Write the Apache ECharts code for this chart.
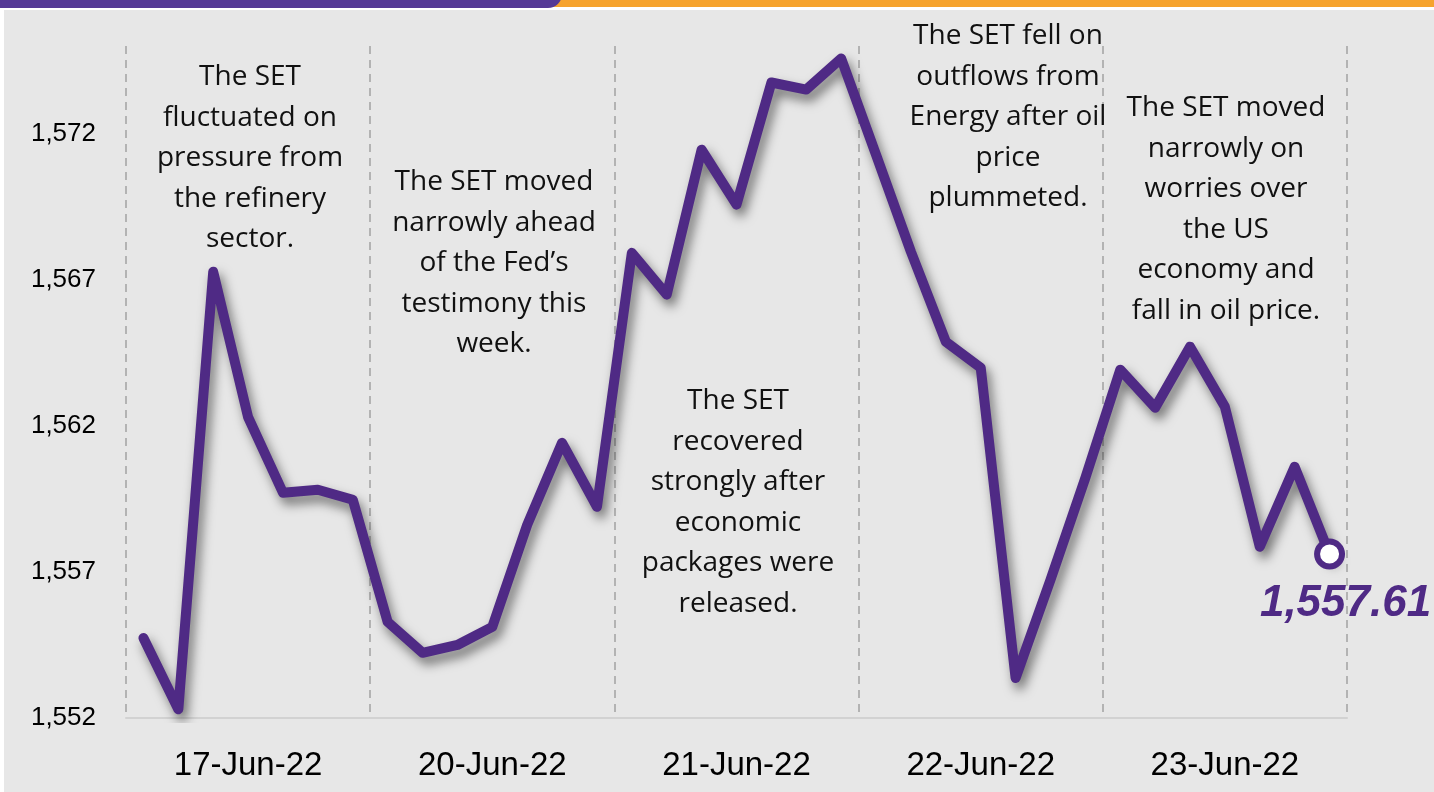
<!DOCTYPE html>
<html>
<head>
<meta charset="utf-8">
<title>SET index</title>
<script src="https://cdn.jsdelivr.net/npm/echarts@6/dist/echarts.min.js"></script>
<style>
  html, body { margin: 0; padding: 0; background: #ffffff; }
  #chart { width: 1434px; height: 792px; }
</style>
</head>
<body>
<div id="chart"></div>
<script>
// trading days, 7 intraday points each
const days = ['17-Jun-22', '20-Jun-22', '21-Jun-22', '22-Jun-22', '23-Jun-22']
const pointsPerDay = 7

const day17 = [1554.74, 1552.30, 1567.27, 1562.30, 1559.71, 1559.81, 1559.47]
const day20 = [1555.29, 1554.23, 1554.50, 1555.12, 1558.61, 1561.42, 1559.23]
const day21 = [1567.92, 1566.49, 1571.45, 1569.57, 1573.75, 1573.51, 1574.57]
const day22 = [1571.28, 1567.96, 1564.88, 1563.99, 1553.37, 1556.73, 1560.22]
const day23 = [1563.92, 1562.62, 1564.71, 1562.65, 1557.86, 1560.60, 1557.61]

const yTicks = [1552, 1557, 1562, 1567, 1572]

const notes = [
  'The SET\nfluctuated on\npressure from\nthe refinery\nsector.',
  'The SET moved\nnarrowly ahead\nof the Fed\u2019s\ntestimony this\nweek.',
  'The SET\nrecovered\nstrongly after\neconomic\npackages were\nreleased.',
  'The SET fell on\noutflows from\nEnergy after oil\nprice\nplummeted.',
  'The SET moved\nnarrowly on\nworries over\nthe US\neconomy and\nfall in oil price.'
]

const purple = '#4f2a85'

// build category list + values from the per-day arrays
const values = [].concat(day17, day20, day21, day22, day23)
const categories = []
days.forEach(d => {
  for (let i = 0; i < pointsPerDay; i++) categories.push(d + ' #' + (i + 1))
})
const lastOnly = values.map((v, i) => (i === values.length - 1 ? v : '-'))

const mycharts = echarts.init(document.getElementById('chart'))

// note text boxes: [center x, top y]
const notePos = [[250, 57], [494, 162], [738, 381], [1008, 16], [1226, 88]]

mycharts.setOption({
  backgroundColor: '#ffffff',
  animation: false,
  grid: {
    left: 126,
    right: 87,
    top: 46,
    bottom: 74
  },
  xAxis: {
    type: 'category',
    data: categories,
    boundaryGap: true,
    axisLine: {
      show: true,
      lineStyle: { color: '#d2d2d2', width: 2 }
    },
    axisTick: { show: false },
    axisLabel: {
      // only the middle point of each day gets the date
      interval: (i) => i % pointsPerDay === 3,
      formatter: (v) => v.split(' #')[0],
      color: '#000',
      fontFamily: 'Liberation Sans',
      fontSize: 33,
      margin: 31
    },
    //day separators
    splitLine: {
      show: true,
      interval: (i) => i % pointsPerDay === 0,
      lineStyle: { color: '#a3a3a3', type: [8, 6], width: 1.5 }
    }
  },
  yAxis: {
    type: 'value',
    min: yTicks[0],
    max: 1575,
    interval: 5,
    axisLine: { show: false },
    axisTick: { show: false },
    splitLine: { show: false },
    axisLabel: {
      showMaxLabel: false,
      formatter: (v) => v.toLocaleString('en-US'),
      color: '#000',
      fontFamily: 'Liberation Sans',
      fontSize: 26,
      margin: 30,
      padding: [6, 0, 0, 0]
    }
  },
  graphic: [
    // gray panel
    { type: 'rect', z: -10, shape: { x: 4, y: 10, width: 1430, height: 782 }, style: { fill: '#e7e7e7' } },
    // header strips
    { type: 'rect', z: 10, shape: { x: 0, y: 0, width: 1434, height: 7 }, style: { fill: '#f6a32e' } },
    { type: 'rect', z: 11, shape: { x: -20, y: -20, width: 582, height: 28, r: [0, 0, 14, 0] }, style: { fill: '#553996' } }
  ].concat(notes.map((t, i) => ({
    type: 'text',
    z: 5,
    x: notePos[i][0],
    y: notePos[i][1],
    style: {
      text: t,
      fill: '#111',
      font: '28px "Open Sans"',
      textAlign: 'center',
      textVerticalAlign: 'top',
      lineHeight: 40.5
    }
  }))),
  series: [
    {
      type: 'line',
      data: values,
      symbol: 'none',
      z: 3,
      lineStyle: {
        color: purple,
        width: 10,
        cap: 'round',
        join: 'round',
        shadowColor: 'rgba(0,0,0,0.5)',
        shadowBlur: 11,
        shadowOffsetX: 4,
        shadowOffsetY: 7
      }
    },
    {
      type: 'scatter',
      data: lastOnly,
      z: 4,
      symbol: 'circle',
      symbolSize: 25,
      itemStyle: { color: '#ffffff', borderColor: purple, borderWidth: 6, opacity: 1 },
      label: {
        show: true,
        position: 'bottom',
        distance: 12,
        offset: [16, 0],
        formatter: (p) => p.value.toLocaleString('en-US', { minimumFractionDigits: 2 }),
        color: purple,
        fontFamily: 'Liberation Sans',
        fontWeight: 'bold',
        fontStyle: 'italic',
        fontSize: 44
      }
    }
  ]
})
</script>
</body>
</html>
